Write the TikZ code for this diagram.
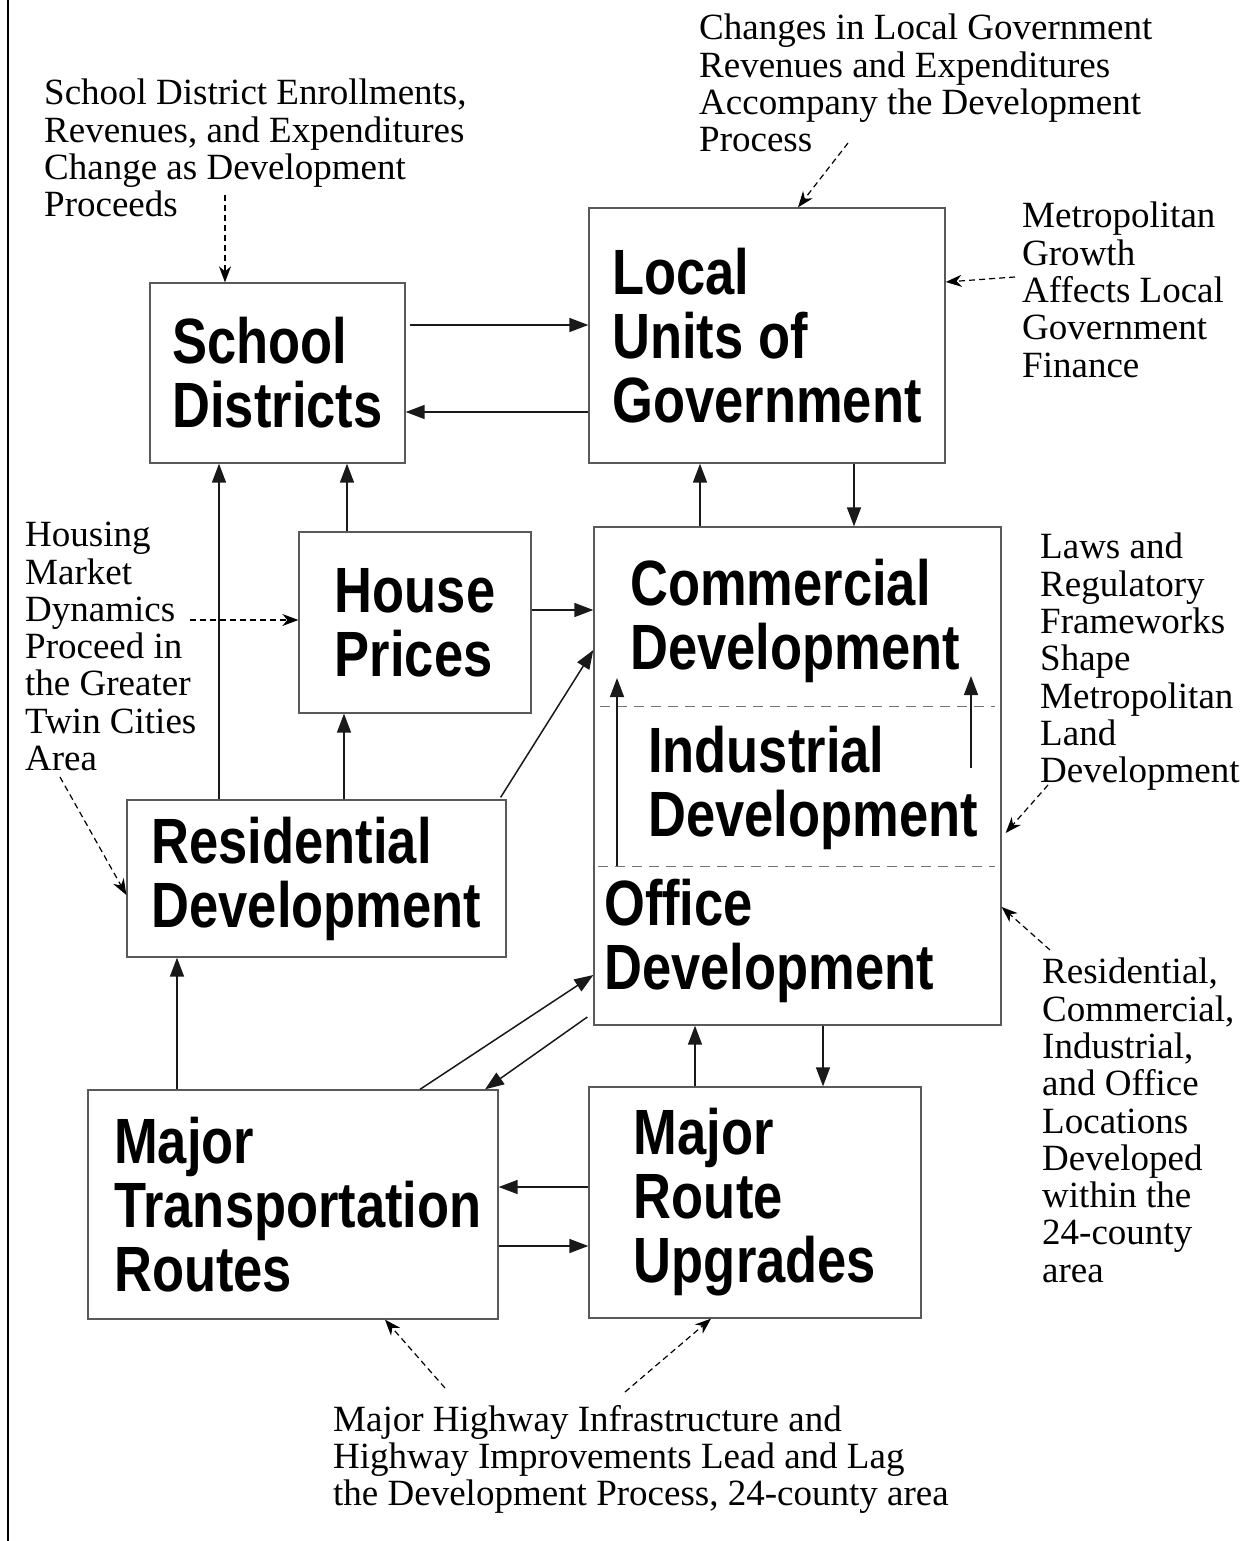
\documentclass[tikz,border=0pt]{standalone}
\usepackage{fontspec}
\setmainfont{Liberation Serif}
\newfontfamily\boxfont{Liberation Sans}[FakeStretch=0.82]
\usetikzlibrary{positioning, arrows.meta}

\begin{document}
\begin{tikzpicture}[x = 1pt, y = -1pt,
    unit/.style = { draw = black!65, line width = 1.3pt, align = left, inner sep = 0pt,
      font = \boxfont\bfseries\fontsize{64}{64}\selectfont },
    part/.style = { align = left, inner sep = 0pt, anchor = west,
      font = \boxfont\bfseries\fontsize{64}{64}\selectfont },
    note/.style = { align = left, inner sep = 0pt, anchor = north west,
      font = \fontsize{37}{37.3}\selectfont },
    flow/.style = { -{Triangle[length = 19pt, width = 14pt]}, line width = 1.5pt, draw = black!90 },
    cue/.style = { -{Stealth[length = 16pt, width = 12pt, inset = 5pt]}, line width = 1.2pt,
      dash pattern = on 6pt off 4pt },
    sep/.style = { draw = black!55, line width = 1pt, dash pattern = on 10pt off 7pt }]

    \useasboundingbox (0,0) rectangle (1253,1541);
    \draw[line width = 2pt] (8,0) -- (8,1541);

    % boxes
    \node[unit, minimum width = 255pt, minimum height = 180pt] (school) at (277.5,373) { School \\ Districts };
    \node[unit, minimum width = 356pt, minimum height = 255pt] (local) at (767,335.5) { Local \\ Units of \\ Government };
    \node[unit, minimum width = 232pt, minimum height = 181pt] (house) at (415,622.5) { House \\ Prices };
    \node[unit, minimum width = 407pt, minimum height = 498pt] (dev) at (797.5,776) {};
    \node[unit, minimum width = 379pt, minimum height = 157pt] (res) at (316.5,878.5) { Residential \\ Development };
    \node[unit, minimum width = 410pt, minimum height = 229pt] (trans) at (293,1204.5) {};
    \node[part] (ttrans) at (114,1204.5) { Major \\ Transportation \\ Routes };
    \node[unit, minimum width = 332pt, minimum height = 231pt] (upgr) at (755,1202.5) { Major \\ Route \\ Upgrades };

    % parts of the development box
    \node[part] (comm) at (630,621) { Commercial \\ Development };
    \node[part] (indu) at (648,788) { Industrial \\ Development };
    \node[part] (offi) at (604,941) { Office \\ Development };
    \draw[sep] (600,706) -- (995,706);
    \draw[sep] (598,866) -- (995,866);

    % notes
    \node[note] (nschool) at (44,79) { School District Enrollments, \\ Revenues, and Expenditures \\ Change as Development \\ Proceeds };
    \node[note] (nlocal) at (699,14) { Changes in Local Government \\ Revenues and Expenditures \\ Accompany the Development \\ Process };
    \node[note] (nmetro) at (1022,202) { Metropolitan \\ Growth \\ Affects Local \\ Government \\ Finance };
    \node[note] (nhouse) at (25,522) { Housing \\ Market \\ Dynamics \\ Proceed in \\ the Greater \\ Twin Cities \\ Area };
    \node[note] (nlaws) at (1040,533) { Laws and \\ Regulatory \\ Frameworks \\ Shape \\ Metropolitan \\ Land \\ Development };
    \node[note] (nloc) at (1042,958) { Residential, \\ Commercial, \\ Industrial, \\ and Office \\ Locations \\ Developed \\ within the \\ 24-county \\ area };
    \node[note] (nroad) at (333,1405) { Major Highway Infrastructure and \\ Highway Improvements Lead and Lag \\ the Development Process, 24-county area };

    % free ends
    \coordinate (c1) at (225,195);
    \coordinate (c2) at (848,143);
    \coordinate (c3) at (1015,277);
    \coordinate (c4) at (190,620);
    \coordinate (c5) at (60,777);
    \coordinate (c6) at (1048,785);
    \coordinate (c7) at (1050,950);
    \coordinate (c8) at (445,1388);
    \coordinate (c9) at (625,1392);
    \coordinate (o1) at (617,866);
    \coordinate (o2) at (617,678);
    \coordinate (i1) at (971,768);
    \coordinate (i2) at (971,676);

    % connectors
    \draw[flow] ([xshift = 4pt]school.east |- 0,325) -- (local.west |- 0,325);
    \draw[flow] (local.west |- 0,412) -- (school.east |- 0,412);
    \draw[flow] (res.north -| 219,0) -- (school.south -| 219,0);
    \draw[flow] (house.north -| 347,0) -- (school.south -| 347,0);
    \draw[flow] (res.north -| 344,0) -- (house.south -| 344,0);
    \draw[flow] (house.east |- 0,610) -- (dev.west |- 0,610);
    \draw[flow] ([xshift = -6pt, yshift = 2pt]res.north east) -- (dev.west |- 0,650);
    \draw[flow] (dev.north -| 700,0) -- (local.south -| 700,0);
    \draw[flow] (local.south -| 854,0) -- (dev.north -| 854,0);
    \draw[flow] (o1) -- (o2);
    \draw[flow] (i1) -- (i2);
    \draw[flow] (trans.north -| 420,0) -- (dev.west |- 0,975);
    \draw[flow] ([xshift = -6pt]dev.west |- 0,1017) -- (trans.north -| 485,0);
    \draw[flow] (upgr.north -| 695,0) -- (dev.south -| 695,0);
    \draw[flow] (dev.south -| 823,0) -- (upgr.north -| 823,0);
    \draw[flow] (upgr.west |- 0,1187) -- (trans.east |- 0,1187);
    \draw[flow] (trans.east |- 0,1246) -- (upgr.west |- 0,1246);
    \draw[flow] (trans.north -| 177,0) -- (res.south -| 177,0);

    % influences
    \draw[cue] (c1) -- (school.north -| 225,0);
    \draw[cue] (c2) -- (local.north -| 798,0);
    \draw[cue] (c3) -- (local.east |- 0,282);
    \draw[cue] (c4) -- (house.west |- 0,620);
    \draw[cue] (c5) -- (res.west |- 0,895);
    \draw[cue] (c6) -- ([xshift = 4pt]dev.east |- 0,833);
    \draw[cue] (c7) -- (dev.east |- 0,907);
    \draw[cue] (c8) -- (trans.south -| 385,0);
    \draw[cue] (c9) -- (upgr.south -| 711,0);

\end{tikzpicture}
\end{document}
